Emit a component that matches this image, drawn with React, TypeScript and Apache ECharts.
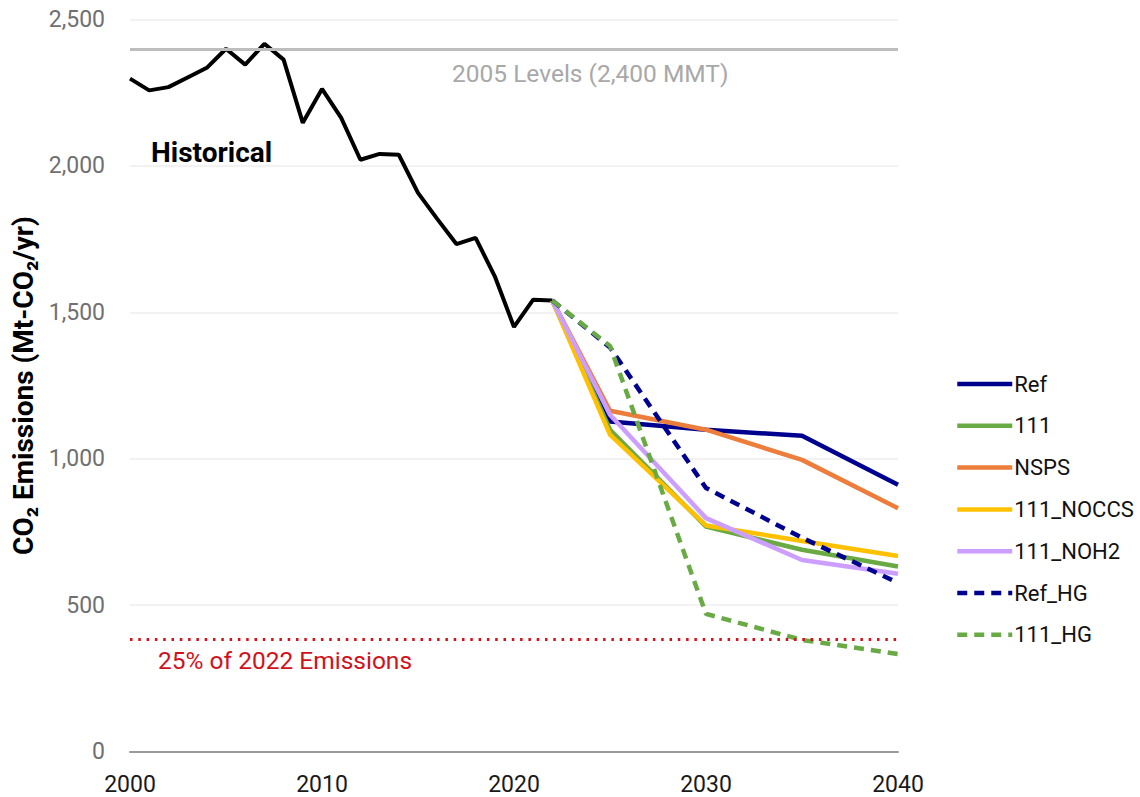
import React, { useEffect, useRef } from "react";
import * as echarts from "echarts";

const histYears = [2000, 2001, 2002, 2003, 2004, 2005, 2006, 2007, 2008, 2009, 2010, 2011, 2012, 2013, 2014, 2015, 2016, 2017, 2018, 2019, 2020, 2021, 2022];
const histValues = [2298, 2258, 2269, 2302, 2335, 2400, 2346, 2417, 2363, 2147, 2263, 2164, 2021, 2041, 2038, 1908, 1819, 1733, 1754, 1623, 1450, 1543, 1540];

const projYears = [2022, 2025, 2030, 2035, 2040];
const refValues = [1540, 1127, 1099, 1078, 911];
const s111Values = [1540, 1099, 768, 689, 632];
const nspsValues = [1540, 1164, 1099, 996, 831];
const noccsValues = [1540, 1082, 772, 719, 668];
const noh2Values = [1540, 1150, 797, 654, 607];
const refHGValues = [1540, 1380, 900, 730, 576];
const hgValues = [1540, 1385, 470, 381, 333];

const level2005 = 2400;
const level25pct = 385;

const xTicks = [2000, 2010, 2020, 2030, 2040];
const yTicks = [0, 500, 1000, 1500, 2000, 2500];

const FONT = "Roboto, 'Noto Sans', sans-serif";

function App() {
  const ref = useRef<HTMLDivElement>(null);
  useEffect(() => {
    if (!ref.current) return;
    const chart = echarts.init(ref.current, null, { renderer: "svg" });
    const pair = (xs: number[], ys: number[]) => xs.map((x, i) => [x, ys[i]]);
    const proj = (name: string, vals: number[], color: string, dashed = false) => ({
      name,
      type: "line",
      data: pair(projYears, vals),
      symbol: "none",
      lineStyle: { color, width: 4.5, type: dashed ? [10, 7] : "solid" },
      itemStyle: { color },
      z: dashed ? 4 : 3,
    });
    chart.setOption({
      animation: false,
      textStyle: { fontFamily: FONT },
      grid: { left: 130, right: 242, top: 19.5, bottom: 45.5, containLabel: false },
      xAxis: {
        type: "value",
        min: xTicks[0],
        max: xTicks[xTicks.length - 1],
        interval: 10,
        axisLine: { show: true, onZero: false, lineStyle: { color: "#9a9a9a", width: 2 } },
        axisTick: { show: false },
        splitLine: { show: false },
        axisLabel: {
          color: "#1a1a1a",
          fontSize: 23,
          margin: 21,
          formatter: (v: number) => String(v),
        },
      },
      yAxis: {
        type: "value",
        min: yTicks[0],
        max: yTicks[yTicks.length - 1],
        interval: 500,
        axisLine: { show: false },
        axisTick: { show: false },
        splitLine: { show: true, lineStyle: { color: "#eeeeee", width: 1.5 } },
        axisLabel: {
          color: "#707070",
          fontSize: 23,
          margin: 25,
          formatter: (v: number) => v.toLocaleString("en-US"),
        },
        name: "CO₂ Emissions (Mt-CO₂/yr)",
        nameLocation: "middle",
        nameGap: 87,
        nameTextStyle: { color: "#000", fontSize: 28, fontWeight: "bold" },
      },
      legend: {
        orient: "vertical",
        left: 955,
        top: 373,
        padding: 0,
        itemWidth: 55,
        itemHeight: 5,
        itemGap: 19.8,
        itemStyle: { opacity: 0 },
        lineStyle: { width: 4.5 },
        textStyle: { color: "#111", fontSize: 22, padding: [0, 0, 0, -3] },
        data: ["Ref", "111", "NSPS", "111_NOCCS", "111_NOH2", "Ref_HG", "111_HG"],
      },
      series: [
        {
          name: "Historical",
          type: "line",
          data: pair(histYears, histValues),
          symbol: "none",
          lineStyle: { color: "#000", width: 4 },
          itemStyle: { color: "#000" },
          z: 2,
          markLine: {
            silent: true,
            symbol: "none",
            label: { show: false },
            data: [
              { yAxis: level2005, lineStyle: { color: "#bdbdbd", width: 3, type: "solid" } },
              { yAxis: level25pct, lineStyle: { color: "#d0121b", width: 3, type: [2.5, 5.8] } },
            ],
          },
        },
        proj("Ref", refValues, "#00008f"),
        proj("111", s111Values, "#6aaa45"),
        proj("NSPS", nspsValues, "#ed7d3a"),
        proj("111_NOCCS", noccsValues, "#ffc000"),
        proj("111_NOH2", noh2Values, "#cc9eff"),
        proj("Ref_HG", refHGValues, "#00008f", true),
        proj("111_HG", hgValues, "#6aaa45", true),
      ],
      graphic: [
        {
          type: "text",
          x: 452,
          y: 73,
          style: { text: "2005 Levels (2,400 MMT)", fill: "#a8a8a8", fontSize: 24.5, fontFamily: FONT, verticalAlign: "middle" },
        },
        {
          type: "text",
          x: 151,
          y: 152,
          style: { text: "Historical", fill: "#000", fontSize: 28, fontWeight: "bold", fontFamily: FONT, verticalAlign: "middle" },
        },
        {
          type: "text",
          x: 158,
          y: 660,
          style: { text: "25% of 2022 Emissions", fill: "#d0121b", fontSize: 24.5, fontFamily: FONT, verticalAlign: "middle" },
        },
      ],
    });
    return () => chart.dispose();
  }, []);
  return <div ref={ref} style={{ width: 1140, height: 797, position: "absolute", left: 0, top: 0 }} />;
}

export default App;
